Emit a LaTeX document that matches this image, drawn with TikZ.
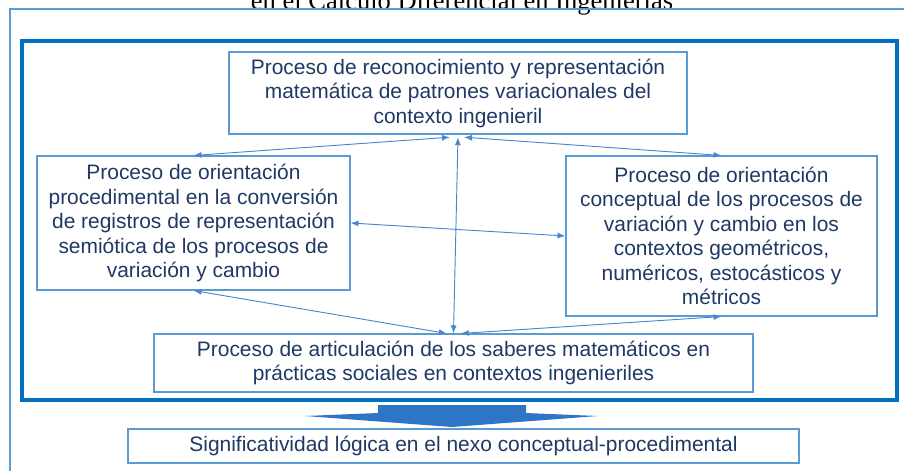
\documentclass[tikz,border=0pt]{standalone}
\usepackage{fontspec}
\setmainfont{Liberation Sans}
\newfontfamily\titlefont{Liberation Serif}
\usepackage{tikz}
\usetikzlibrary{arrows.meta}

\definecolor{boxline}{HTML}{5B9BD5}
\definecolor{frameblue}{HTML}{0070C0}
\definecolor{linkblue}{HTML}{4A86D0}
\definecolor{txtnavy}{HTML}{1F3864}
\definecolor{bigarrow}{HTML}{2E75C6}

\tikzset{
  procbox/.style={draw=boxline, line width=0.8pt, align=center, inner sep=0pt,
    text=txtnavy, font=\fontsize{15.7}{18.4}\selectfont},
  link/.style={draw=linkblue, line width=0.7pt, {Latex[length=6pt,width=4.5pt]}-{Latex[length=6pt,width=4.5pt]}}
}

\begin{document}
\begin{tikzpicture}[x=0.75pt,y=-0.75pt]
\useasboundingbox (0,0) rectangle (904,471);

\node[font=\titlefont\fontsize{19.9}{22}\selectfont, anchor=base] (title) at (462,10) {en el Cálculo Diferencial en Ingenierías};

\draw[boxline, line width=0.8pt] (10,480) -- (10,9) -- (910,9);
\draw[frameblue, line width=2.4pt] (22,41) rectangle (897,400);

\node[procbox, minimum width=343.5pt, minimum height=61.5pt] (top) at (458,93)
  {Proceso de reconocimiento y representación\\matemática de patrones variacionales del\\contexto ingenieril};
\node[procbox, minimum width=234.75pt, minimum height=100.5pt] (left) at (193.5,223)
  {Proceso de orientación\\procedimental en la conversión\\de registros de representación\\semiótica de los procesos de\\variación y cambio};
\node[procbox, minimum width=233.25pt, minimum height=120pt] (right) at (721.5,236)
  {Proceso de orientación\\conceptual de los procesos de\\variación y cambio en los\\contextos geométricos,\\numéricos, estocásticos y\\métricos};
\node[procbox, minimum width=449.25pt, minimum height=43.5pt] (bottom) at (453.5,363)
  {Proceso de articulación de los saberes matemáticos en\\prácticas sociales en contextos ingenieriles};
\node[procbox, minimum width=503.25pt, minimum height=25.5pt] (result) at (463.5,446)
  {Significatividad lógica en el nexo conceptual-procedimental};

\draw[link] ([xshift=-6pt,yshift=-2pt]top.south) -- (left.north);
\draw[link] ([xshift=4.5pt,yshift=-2pt]top.south) -- (right.north);
\draw[link] ([yshift=-2pt]top.south) -- (bottom.north);
\draw[link] (left.east) -- (right.west);
\draw[link] (left.south) -- ([xshift=-5pt]bottom.north);
\draw[link] (right.south) -- ([xshift=5.5pt]bottom.north);

\fill[bigarrow] (378,405) -- (526,405) -- (526,413) -- (598,416) -- (452,427)
  -- (305,416) -- (378,413) -- cycle;
\end{tikzpicture}
\end{document}
